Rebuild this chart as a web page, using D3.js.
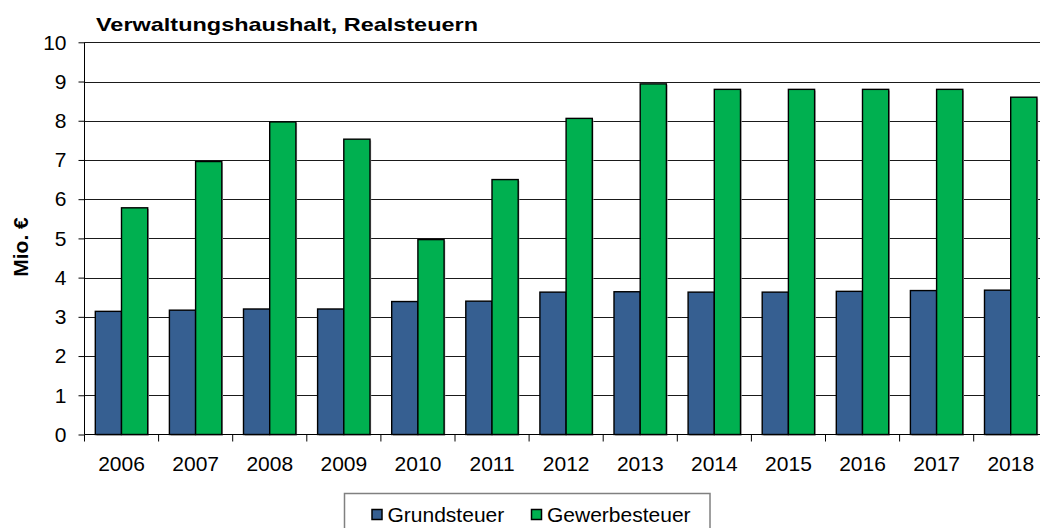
<!DOCTYPE html>
<html>
<head>
<meta charset="utf-8">
<script src="https://cdn.jsdelivr.net/npm/d3@7"></script>
<style>
  html, body { margin: 0; padding: 0; background: #fff; }
  svg { display: block; font-family: "Liberation Sans", Arial, sans-serif; }
</style>
</head>
<body>
<svg id="chart" width="1040" height="528"></svg>
<script>
// chart data
const years = ['2006', '2007', '2008', '2009', '2010', '2011', '2012', '2013', '2014', '2015', '2016', '2017', '2018'];
const grundsteuer = [3.14, 3.17, 3.20, 3.20, 3.39, 3.40, 3.63, 3.64, 3.63, 3.63, 3.65, 3.67, 3.68];
const gewerbesteuer = [5.78, 6.96, 7.97, 7.53, 4.97, 6.50, 8.06, 8.94, 8.80, 8.80, 8.80, 8.80, 8.60];
const seriesNames = ['Grundsteuer', 'Gewerbesteuer'];
const yTicks = [0, 1, 2, 3, 4, 5, 6, 7, 8, 9, 10];

const colors = { Grundsteuer: '#365f91', Gewerbesteuer: '#00b050' };

const svg = d3.select('#chart');
const plotLeft = 84.5, plotTop = 42.3, plotBottom = 434.5;
const bandW = 74.1;

const x = d3.scaleBand()
    .domain(years)
    .range([plotLeft, plotLeft + bandW * years.length])
    .padding(0);

const x1 = d3.scaleBand()
    .domain(seriesNames)
    .range([10.8, 63.2])
    .padding(0);

const y = d3.scaleLinear().domain([0, 10]).range([plotBottom, plotTop]);

// gridlines
svg.append('g')
    .selectAll('line')
    .data(yTicks.filter(d => d > 0))
    .join('line')
    .attr('x1', plotLeft)
    .attr('x2', 1040)
    .attr('y1', d => Math.round(y(d)) + 0.5)
    .attr('y2', d => Math.round(y(d)) + 0.5)
    .attr('stroke', '#1a1a1a')
    .attr('stroke-width', 1);

// bars
const rows = years.map((yr, i) => ({
    year: yr,
    values: [
        { key: 'Grundsteuer', value: grundsteuer[i] },
        { key: 'Gewerbesteuer', value: gewerbesteuer[i] }
    ]
}));

const groups = svg.append('g')
    .selectAll('g')
    .data(rows)
    .join('g')
    .attr('transform', d => `translate(${x(d.year)},0)`);

// soft shadow behind each bar
groups.selectAll('rect.shadow')
    .data(d => d.values)
    .join('rect')
    .attr('class', 'shadow')
    .attr('x', d => x1(d.key) + 1.2)
    .attr('y', d => y(d.value) + 1.2)
    .attr('width', x1.bandwidth())
    .attr('height', d => plotBottom - y(d.value))
    .attr('fill', '#b0b0b0');

groups.selectAll('rect.bar')
    .data(d => d.values)
    .join('rect')
    .attr('class', 'bar')
    .attr('x', d => x1(d.key))
    .attr('y', d => y(d.value))
    .attr('width', x1.bandwidth())
    .attr('height', d => plotBottom - y(d.value))
    .attr('fill', d => colors[d.key])
    .attr('stroke', '#000')
    .attr('stroke-width', 1.4);

// y axis
const yAxis = svg.append('g')
    .attr('transform', `translate(${plotLeft},0)`)
    .call(d3.axisLeft(y).tickValues(yTicks).tickSize(6).tickPadding(12).tickFormat(d3.format('d')));
yAxis.select('.domain').attr('stroke', '#000').attr('d', `M0,${plotTop}V${plotBottom}`);
yAxis.selectAll('.tick line').attr('stroke', '#000');
yAxis.selectAll('.tick text')
    .attr('fill', '#000')
    .attr('font-size', 21)
    .attr('font-family', '"Liberation Sans", Arial, sans-serif');

// x axis with ticks on the category borders
const xAxis = svg.append('g')
    .attr('transform', `translate(0,${plotBottom})`)
    .call(d3.axisBottom(x).tickSize(0).tickPadding(22));
xAxis.select('.domain').attr('stroke', '#000').attr('d', `M${plotLeft},0H1040`);
xAxis.selectAll('.tick text')
    .attr('fill', '#000')
    .attr('font-size', 21)
    .attr('font-family', '"Liberation Sans", Arial, sans-serif');
xAxis.append('g')
    .selectAll('line')
    .data(years)
    .join('line')
    .attr('x1', d => x(d))
    .attr('x2', d => x(d))
    .attr('y1', 0)
    .attr('y2', 7)
    .attr('stroke', '#000');

// title
svg.append('text')
    .attr('x', 96)
    .attr('y', 31)
    .attr('font-size', 19)
    .attr('font-weight', 'bold')
    .attr('textLength', 382)
    .attr('lengthAdjust', 'spacingAndGlyphs')
    .text('Verwaltungshaushalt, Realsteuern');

// y axis label
svg.append('text')
    .attr('transform', 'translate(28,247) rotate(-90)')
    .attr('text-anchor', 'middle')
    .attr('font-size', 21)
    .attr('font-weight', 'bold')
    .text('Mio. €');

// legend
const legend = svg.append('g');
legend.append('rect')
    .attr('x', 344.5)
    .attr('y', 493.5)
    .attr('width', 365.5)
    .attr('height', 50)
    .attr('fill', '#fff')
    .attr('stroke', '#808080')
    .attr('stroke-width', 1.5);

const legendX = [372, 531.5];
seriesNames.forEach((name, i) => {
    legend.append('rect')
        .attr('x', legendX[i])
        .attr('y', 509.5)
        .attr('width', 10)
        .attr('height', 10)
        .attr('fill', colors[name])
        .attr('stroke', '#000')
        .attr('stroke-width', 1.5);
    legend.append('text')
        .attr('x', legendX[i] + 15.5)
        .attr('y', 521.5)
        .attr('font-size', 21)
        .text(name);
});
</script>
</body>
</html>
